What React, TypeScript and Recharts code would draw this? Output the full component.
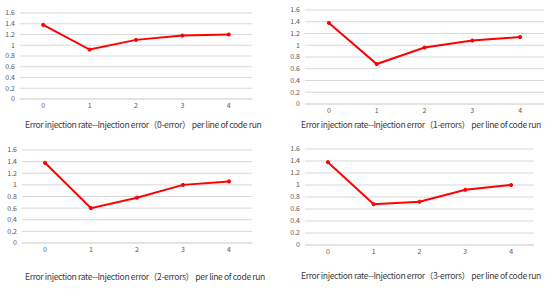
import React from 'react';
import { LineChart, Line, XAxis, YAxis, CartesianGrid } from 'recharts';

const CATEGORIES = [0, 1, 2, 3, 4];
const Y_TICKS = [0, 0.2, 0.4, 0.6, 0.8, 1, 1.2, 1.4, 1.6];

const ERRORS_0 = [1.38, 0.92, 1.1, 1.18, 1.2];
const ERRORS_1 = [1.38, 0.68, 0.96, 1.08, 1.14];
const ERRORS_2 = [1.38, 0.6, 0.78, 1.0, 1.06];
const ERRORS_3 = [1.38, 0.68, 0.72, 0.92, 1.0];

const TITLES = [
  'Error injection rate--Injection error（0-error） per line of code run',
  'Error injection rate--Injection error（1-errors） per line of code run',
  'Error injection rate--Injection error（2-errors） per line of code run',
  'Error injection rate--Injection error（3-errors） per line of code run',
];

const RED = '#FF0000';
const GRID = '#D9D9D9';
const TICK = '#595959';
const FONT = '"Noto Sans CJK SC", "Noto Sans", sans-serif';

const Y_AXIS_W = 25;

interface PanelProps {
  values: number[];
  title: string;
  plotLeft: number;
  plotRight: number;
  plotTop: number;
  plotBottom: number;
  titleX: number;
  titleY: number;
}

function Panel({ values, title, plotLeft, plotRight, plotTop, plotBottom, titleX, titleY }: PanelProps) {
  const data = CATEGORIES.map((c, i) => ({ x: c, v: values[i] }));
  const plotW = plotRight - plotLeft;
  const pad = plotW / CATEGORIES.length / 2;
  const left = plotLeft - Y_AXIS_W;
  const top = plotTop - 8;
  const width = plotW + Y_AXIS_W + 2;
  const height = plotBottom - top + 16;
  return (
    <>
      <div style={{ position: 'absolute', left, top }}>
        <LineChart width={width} height={height} data={data} margin={{ top: 8, right: 2, bottom: 0, left: 0 }}>
          <CartesianGrid vertical={false} stroke={GRID} strokeWidth={1} />
          <XAxis
            dataKey="x"
            type="category"
            padding={{ left: pad, right: pad }}
            axisLine={{ stroke: GRID }}
            tickLine={false}
            tickSize={0}
            tickMargin={4}
            height={16}
            tick={{ fill: TICK, fontSize: 7, fontFamily: FONT }}
            interval={0}
          />
          <YAxis
            type="number"
            domain={[0, 1.6]}
            ticks={Y_TICKS}
            width={Y_AXIS_W}
            axisLine={false}
            tickLine={false}
            tickSize={0}
            tickMargin={5}
            tick={{ fill: TICK, fontSize: 7, fontFamily: FONT }}
            interval={0}
          />
          <Line
            type="linear"
            dataKey="v"
            stroke={RED}
            strokeWidth={2}
            dot={{ r: 1.6, fill: RED, stroke: RED, strokeWidth: 1 }}
            isAnimationActive={false}
          />
        </LineChart>
      </div>
      <div
        style={{
          position: 'absolute',
          left: titleX,
          top: titleY - 7,
          fontFamily: FONT,
          fontSize: 8.6,
          letterSpacing: -0.38,
          lineHeight: '14px',
          color: '#404040',
          whiteSpace: 'nowrap',
        }}
      >
        {title}
      </div>
    </>
  );
}

export default function App() {
  return (
    <div style={{ position: 'fixed', left: 0, top: 0, width: 550, height: 289, background: '#fff', overflow: 'hidden' }}>
      <Panel values={ERRORS_0} title={TITLES[0]} plotLeft={20} plotRight={252} plotTop={13} plotBottom={99} titleX={25} titleY={124} />
      <Panel values={ERRORS_1} title={TITLES[1]} plotLeft={305} plotRight={544} plotTop={10} plotBottom={104} titleX={301} titleY={124} />
      <Panel values={ERRORS_2} title={TITLES[2]} plotLeft={22} plotRight={252} plotTop={150} plotBottom={243} titleX={25} titleY={276} />
      <Panel values={ERRORS_3} title={TITLES[3]} plotLeft={305} plotRight={534} plotTop={149} plotBottom={245} titleX={301} titleY={275} />
    </div>
  );
}
